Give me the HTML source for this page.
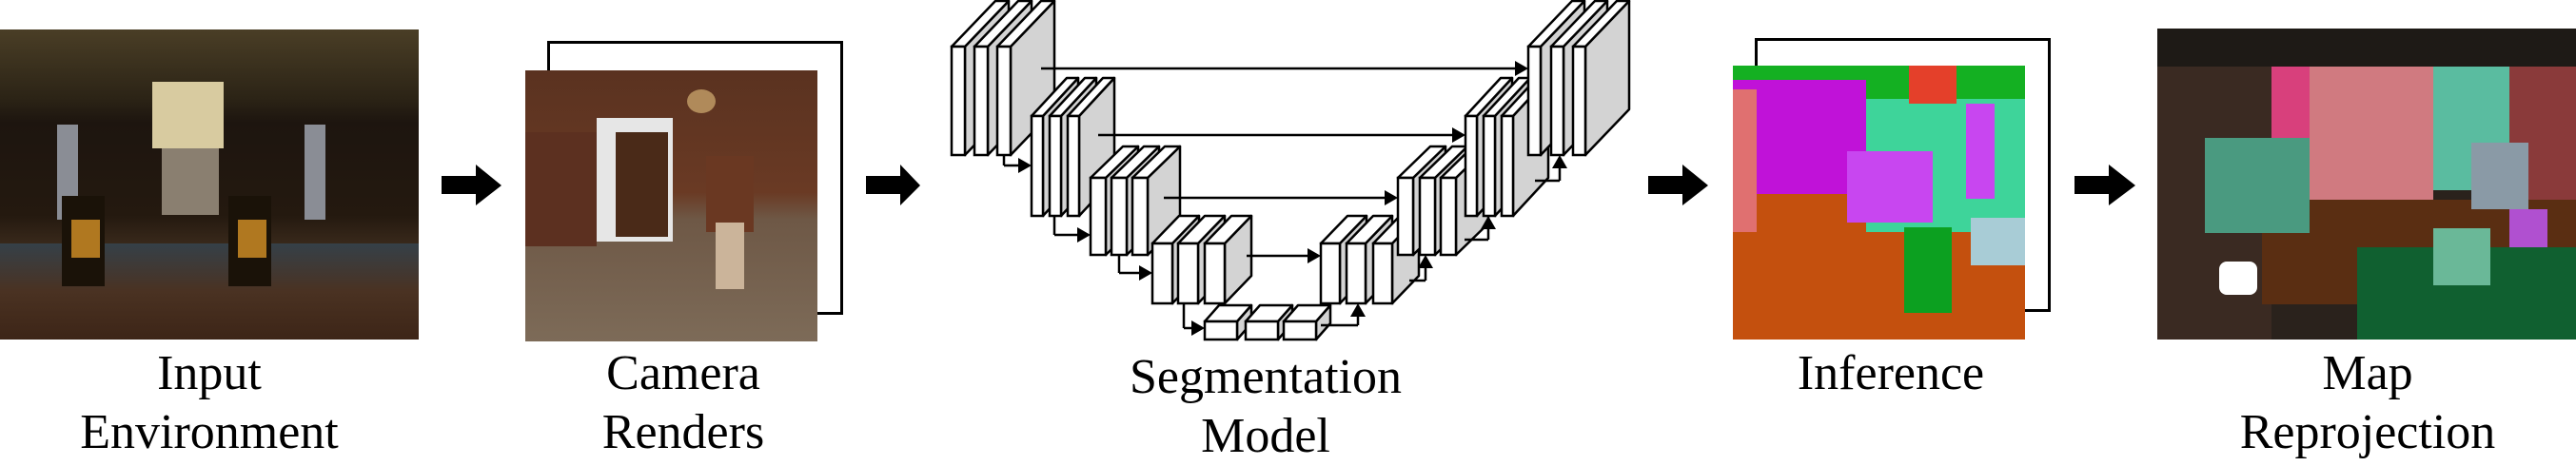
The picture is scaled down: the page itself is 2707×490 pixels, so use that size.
<!DOCTYPE html>
<html><head><meta charset="utf-8">
<style>
html,body{margin:0;padding:0;background:#fff;}
body{width:2707px;height:486px;position:relative;overflow:hidden;font-family:"Liberation Serif",serif;}
.lbl{position:absolute;text-align:center;font-size:52px;line-height:62px;color:#000;width:400px;}
.img{position:absolute;overflow:hidden;}
.frame{position:absolute;border:3px solid #000;box-sizing:border-box;background:#fff;}
</style></head><body>

<!-- Input environment -->
<div class="img" style="left:0;top:31px;width:440px;height:326px;background:linear-gradient(180deg,#4a3e26 0%,#2c2416 22%,#1d150f 30%,#24190f 60%,#3a2a1c 70%,#4a3020 100%);">
  <div style="position:absolute;left:160px;top:55px;width:75px;height:70px;background:#d8cba0;"></div>
  <div style="position:absolute;left:170px;top:125px;width:60px;height:70px;background:#8a7f70;"></div>
  <div style="position:absolute;left:60px;top:100px;width:22px;height:100px;background:#8a8d95;"></div>
  <div style="position:absolute;left:320px;top:100px;width:22px;height:100px;background:#8a8d95;"></div>
  <div style="position:absolute;left:0;top:225px;width:440px;height:101px;background:linear-gradient(180deg,#354048,#4a3222 50%,#3d2517);"></div>
  <div style="position:absolute;left:65px;top:175px;width:45px;height:95px;background:#1a1208;"></div>
  <div style="position:absolute;left:75px;top:200px;width:30px;height:40px;background:#b07820;"></div>
  <div style="position:absolute;left:240px;top:175px;width:45px;height:95px;background:#1a1208;"></div>
  <div style="position:absolute;left:250px;top:200px;width:30px;height:40px;background:#b07820;"></div>
</div>
<div class="lbl" style="left:20px;top:362px;">Input<br>Environment</div>

<!-- arrow 1 -->
<svg style="position:absolute;left:0;top:0" width="2707" height="486">
  <polygon points="464,185 500,185 500,173 527,195 500,216 500,204 464,204" fill="#000"/>
  <polygon points="910,185 946,185 946,173 967,195 946,216 946,204 910,204" fill="#000"/>
  <polygon points="1732,185 1768,185 1768,173 1795,195 1768,216 1768,204 1732,204" fill="#000"/>
  <polygon points="2180,185 2216,185 2216,173 2244,195 2216,216 2216,204 2180,204" fill="#000"/>
</svg>

<!-- Camera renders -->
<div class="frame" style="left:575px;top:43px;width:311px;height:288px;"></div>
<div class="img" style="left:552px;top:74px;width:307px;height:285px;background:linear-gradient(180deg,#5a3220 0%,#6a3a24 45%,#6e5846 55%,#7d6b58 100%);">
  <div style="position:absolute;left:75px;top:50px;width:80px;height:130px;background:#e6e6e6;"></div>
  <div style="position:absolute;left:95px;top:65px;width:55px;height:110px;background:#4a2a18;"></div>
  <div style="position:absolute;left:0;top:65px;width:75px;height:120px;background:#5c3020;"></div>
  <div style="position:absolute;left:190px;top:90px;width:50px;height:80px;background:#6a3822;"></div>
  <div style="position:absolute;left:200px;top:160px;width:30px;height:70px;background:#cbb49a;"></div>
  <div style="position:absolute;left:170px;top:20px;width:30px;height:25px;background:#b08a5a;border-radius:50%;"></div>
</div>
<div class="lbl" style="left:518px;top:362px;">Camera<br>Renders</div>

<!-- Segmentation model -->
<svg id="unet" style="position:absolute;left:0;top:0" width="2707" height="486"></svg>
<div class="lbl" style="left:1130px;top:366px;">Segmentation<br>Model</div>

<!-- Inference -->
<div class="frame" style="left:1844px;top:40px;width:311px;height:288px;"></div>
<div class="img" style="left:1821px;top:69px;width:307px;height:288px;background:#c4500e;">
  <div style="position:absolute;left:0;top:0;width:307px;height:40px;background:#14b022;"></div>
  <div style="position:absolute;left:0;top:15px;width:140px;height:120px;background:#c012d8;"></div>
  <div style="position:absolute;left:140px;top:35px;width:167px;height:140px;background:#3ed49a;"></div>
  <div style="position:absolute;left:0;top:25px;width:25px;height:150px;background:#e07070;"></div>
  <div style="position:absolute;left:120px;top:90px;width:90px;height:75px;background:#c846f0;"></div>
  <div style="position:absolute;left:245px;top:40px;width:30px;height:100px;background:#c846f0;"></div>
  <div style="position:absolute;left:185px;top:0;width:50px;height:40px;background:#e4402a;"></div>
  <div style="position:absolute;left:180px;top:170px;width:50px;height:90px;background:#0ca020;"></div>
  <div style="position:absolute;left:250px;top:160px;width:57px;height:50px;background:#a8ccd6;"></div>
</div>
<div class="lbl" style="left:1787px;top:362px;">Inference</div>

<!-- Map reprojection -->
<div class="img" style="left:2267px;top:30px;width:440px;height:327px;background:#2a221c;">
  <div style="position:absolute;left:0;top:0;width:440px;height:40px;background:#1e1a16;"></div>
  <div style="position:absolute;left:0;top:40px;width:120px;height:287px;background:#3a2a22;"></div>
  <div style="position:absolute;left:120px;top:40px;width:40px;height:140px;background:#d8407c;"></div>
  <div style="position:absolute;left:160px;top:40px;width:130px;height:160px;background:#d07a80;"></div>
  <div style="position:absolute;left:290px;top:40px;width:80px;height:130px;background:#5abca0;"></div>
  <div style="position:absolute;left:370px;top:40px;width:70px;height:150px;background:#8a3a3a;"></div>
  <div style="position:absolute;left:110px;top:180px;width:330px;height:110px;background:#5a2e12;"></div>
  <div style="position:absolute;left:210px;top:230px;width:230px;height:97px;background:#106030;"></div>
  <div style="position:absolute;left:50px;top:115px;width:110px;height:100px;background:#4a9a80;"></div>
  <div style="position:absolute;left:330px;top:120px;width:60px;height:70px;background:#8a9aa6;"></div>
  <div style="position:absolute;left:290px;top:210px;width:60px;height:60px;background:#6ab898;"></div>
  <div style="position:absolute;left:370px;top:190px;width:40px;height:40px;background:#b050d0;"></div>
  <div style="position:absolute;left:65px;top:245px;width:40px;height:35px;background:#fff;border-radius:8px;"></div>
</div>
<div class="lbl" style="left:2288px;top:362px;">Map<br>Reprojection</div>

<script>
(function(){
var s=document.getElementById('unet');var h='';
function slab(x,y,w,ht,dx,dy){
 h+='<polygon points="'+(x+w)+','+y+' '+(x+w+dx)+','+(y-dy)+' '+(x+w+dx)+','+(y+ht-dy)+' '+(x+w)+','+(y+ht)+'" fill="#d3d3d3" stroke="#000" stroke-width="2.5" stroke-linejoin="round"/>';
 h+='<polygon points="'+x+','+y+' '+(x+dx)+','+(y-dy)+' '+(x+w+dx)+','+(y-dy)+' '+(x+w)+','+y+'" fill="#fff" stroke="#000" stroke-width="2.5" stroke-linejoin="round"/>';
 h+='<rect x="'+x+'" y="'+y+'" width="'+w+'" height="'+ht+'" fill="#fff" stroke="#000" stroke-width="2.5"/>';
}
function block(xs,y,w,ht,dx,dy){xs.forEach(function(x){slab(x,y,w,ht,dx,dy);});}
function arrowH(x1,y,x2){h+='<line x1="'+x1+'" y1="'+y+'" x2="'+(x2-12)+'" y2="'+y+'" stroke="#000" stroke-width="2.5"/><polygon points="'+(x2-14)+','+(y-8)+' '+x2+','+y+' '+(x2-14)+','+(y+8)+'" fill="#000"/>';}
function arrowV(x,y1,y2){h+='<line x1="'+x+'" y1="'+y1+'" x2="'+x+'" y2="'+(y2+12)+'" stroke="#000" stroke-width="2.5"/><polygon points="'+(x-8)+','+(y2+14)+' '+x+','+y2+' '+(x+8)+','+(y2+14)+'" fill="#000"/>';}
function path(p){h+='<polyline points="'+p+'" fill="none" stroke="#000" stroke-width="2.5"/>';}
// encoder
block([1000,1024,1048],49,14,114,46,48);
arrowH(1094,72,1606);
block([1084,1103,1122],122,12,105,37,40);
arrowH(1154,142,1540);
block([1146,1168,1190],187,16,81,34,33);
arrowH(1223,208,1469);
block([1211,1238,1266],256,21,63,28,29);
arrowH(1310,269,1388);
// down connectors
path('1055,163 1055,174');arrowH(1055,174,1084);
path('1108,227 1108,247');arrowH(1108,247,1146);
path('1176,268 1176,287');arrowH(1176,287,1211);
path('1244,319 1244,345');arrowH(1244,345,1266);
// bottom
block([1266,1309,1349],338,34,19,15,17);
// decoder
block([1388,1415,1443],256,20,63,28,29);
block([1469,1492,1514],187,16,81,34,33);
block([1540,1559,1578],122,12,105,37,40);
block([1606,1630,1653],49,13,114,46,48);
// up connectors
path('1388,342 1427,342');arrowV(1427,342,319);
path('1481,295 1498,295');arrowV(1498,295,268);
path('1539,252 1564,252');arrowV(1564,252,227);
path('1613,190 1639,190');arrowV(1639,190,163);
s.innerHTML=h;
})();
</script>
</body></html>
